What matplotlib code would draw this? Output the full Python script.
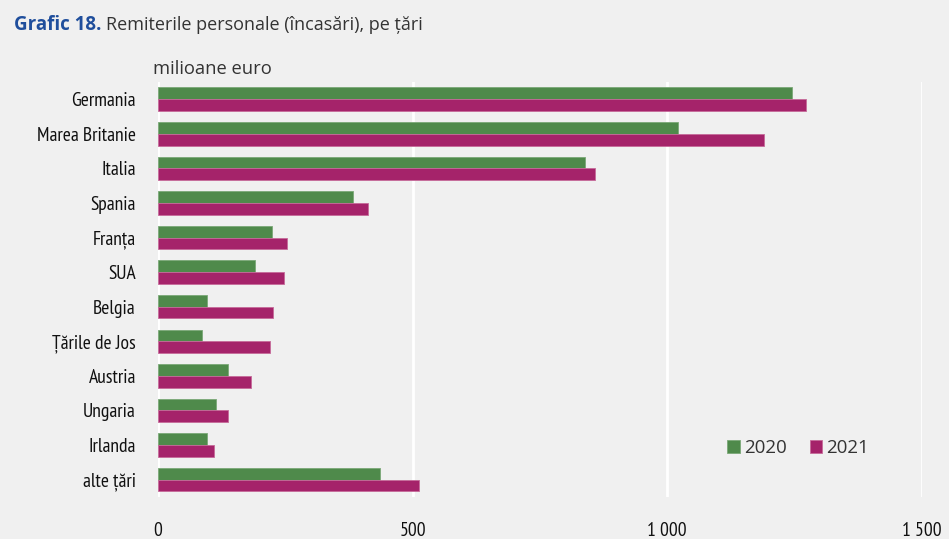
import matplotlib
matplotlib.use("Agg")
import matplotlib.pyplot as plt
import numpy as np

categories = ["Germania", "Marea Britanie", "Italia", "Spania", "Franța", "SUA",
              "Belgia", "Țările de Jos", "Austria", "Ungaria", "Irlanda", "alte țări"]
v2020 = [1245, 1021, 838, 383, 223, 190, 96, 86, 137, 113, 96, 436]
v2021 = [1272, 1190, 858, 413, 253, 247, 225, 220, 182, 137, 109, 513]
xticks = [0, 500, 1000, 1500]
xticklabels = ["0", "500", "1 000", "1 500"]

cond = ["PT Sans Narrow", "DejaVu Sans"]
main_font = ["Open Sans", "DejaVu Sans"]

bg = "#f0f0f0"
green = "#4f8a4b"
mag = "#a5236a"

fig = plt.figure(figsize=(9.49, 5.39), dpi=100, facecolor=bg)
ax = fig.add_axes([0.1665, 0.078, 0.805, 0.77], facecolor=bg)

y = np.arange(len(categories))
h = 0.34
ax.barh(y - h / 2, v2020, height=h, color=green, edgecolor="#7aa877", linewidth=0.6, label="2020", zorder=3)
ax.barh(y + h / 2, v2021, height=h, color=mag, edgecolor="#c66a9a", linewidth=0.6, label="2021", zorder=3)

ax.set_xlim(0, 1500)
ax.set_ylim(len(categories) - 0.5, -0.5)
ax.set_yticks(y)
ax.set_yticklabels(categories, fontfamily=cond, fontsize=14, color="#111111")
ax.set_xticks(xticks)
ax.set_xticklabels(xticklabels, fontfamily=cond, fontsize=14, color="#111111")
ax.tick_params(axis="y", length=0, pad=16)
ax.tick_params(axis="x", length=0, pad=18)
ax.grid(axis="x", color="white", linewidth=2, zorder=0)
ax.axvline(0, color="white", linewidth=2, zorder=1)
for s in ax.spines.values():
    s.set_visible(False)

leg = ax.legend(loc="lower right", bbox_to_anchor=(0.953, 0.056), ncol=2, frameon=False,
                prop={"family": main_font, "size": 13.5}, handlelength=0.65, handleheight=0.65,
                handletextpad=0.25, columnspacing=1.2)
for t in leg.get_texts():
    t.set_color("#333333")

fig.text(0.015, 0.945, "Grafic 18.", fontfamily=main_font, fontweight="bold", fontstretch="normal",
         fontsize=13.5, color="#1f4e9c", va="baseline")
fig.text(0.112, 0.945, "Remiterile personale (încasări), pe țări", fontfamily=main_font,
         fontsize=13, color="#333333", va="baseline")
fig.text(0.161, 0.863, "milioane euro", fontfamily=main_font, fontsize=13.2, color="#333333",
         va="baseline")

fig.savefig("out.png", dpi=100, facecolor=bg)
